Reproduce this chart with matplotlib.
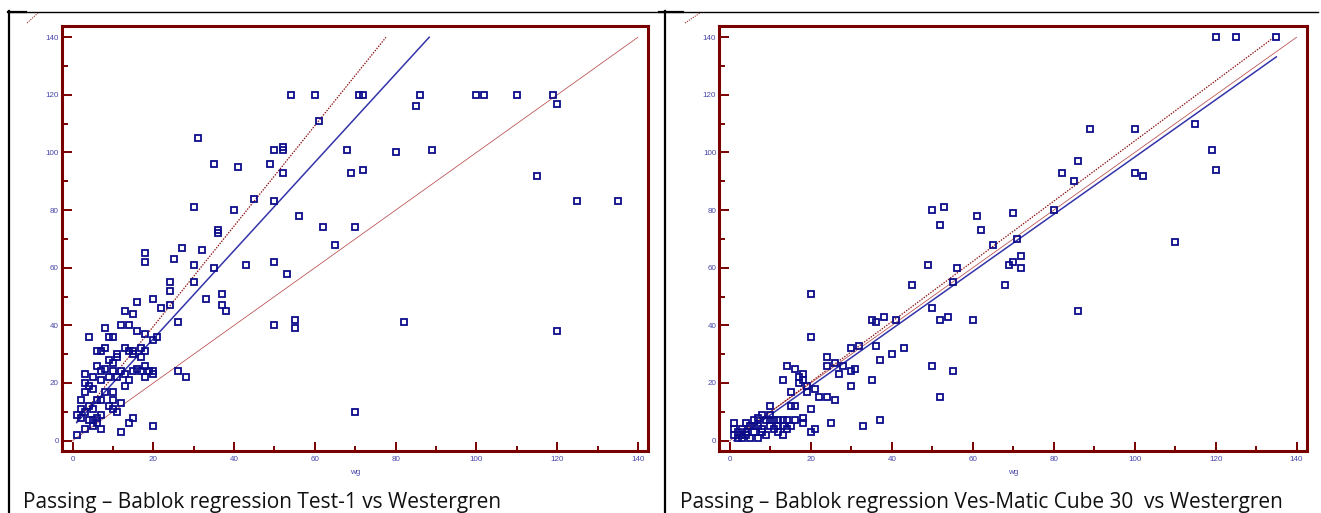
"""
Passing-Bablok regression plots, two methods against Westergren (wg).
"""

import matplotlib
matplotlib.use("Agg")
import matplotlib.pyplot as plt
from matplotlib.lines import Line2D
from matplotlib.ticker import MultipleLocator
import numpy as np


# ── data ──────────────────────────────────────────────────────────────
test1_wg = [
    54, 60, 71, 72, 86, 100, 102, 110, 119, 85, 120, 61, 31,
    68, 80, 89, 50, 52, 52, 35, 41, 49, 52, 69, 72, 115,
    45, 50, 125, 135, 30, 40, 56, 62, 70, 36, 36, 65,
    27, 18, 32, 25, 50, 18, 30, 35, 43, 53,
    24, 30, 24, 37, 33, 20, 37, 38, 24, 22, 16, 13, 15, 26, 50, 55, 55,
    82, 120, 70, 26, 28,
    4, 8, 9, 10, 12, 14, 16, 18, 20, 21,
    6, 7, 8, 11, 11, 13, 15, 15, 17, 18,
    10, 6, 17, 18, 8, 5, 3, 3, 7, 7, 9, 10, 11, 13, 13, 14, 15, 16, 17,
    18, 20, 20, 19,
    2, 3, 5, 6, 7, 8, 10, 10, 12, 11, 10, 7, 5, 4, 3, 2, 1, 2, 4, 3,
    5, 6, 7, 6, 5, 1, 12, 14, 15, 20, 4, 9, 12, 9, 14,
]
test1_y = [
    120, 120, 120, 120, 120, 120, 120, 120, 120, 116, 117, 111, 105,
    101, 100, 101, 101, 102, 101, 96, 95, 96, 93, 93, 94, 92,
    84, 83, 83, 83, 81, 80, 78, 74, 74, 73, 72, 68,
    67, 65, 66, 63, 62, 62, 61, 60, 61, 58,
    55, 55, 52, 51, 49, 49, 47, 45, 47, 46, 48, 45, 44, 41, 40, 42, 39,
    41, 38, 10, 24, 22,
    36, 39, 36, 36, 40, 40, 38, 37, 35, 36,
    31, 31, 32, 30, 29, 32, 31, 30, 32, 31,
    27, 26, 29, 26, 25, 22, 23, 20, 24, 21, 22, 24, 22, 23, 19, 21, 24, 25, 24,
    22, 24, 23, 24,
    14, 17, 18, 14, 14, 17, 17, 14, 13, 10, 11, 9, 11, 12, 10, 11, 9, 8, 7, 4,
    7, 8, 4, 6, 5, 2, 3, 6, 8, 5, 19, 12, 24, 28, 31,
]

cube30_wg = [
    120, 125, 135, 89, 100, 115, 119, 120, 86, 82, 85, 100, 102,
    80, 70, 71, 65, 110, 72, 70, 69, 72, 68, 86,
    50, 53, 52, 61, 62, 49, 56, 55, 45, 50, 52, 54, 60,
    35, 36, 38, 41, 30, 32, 36, 43, 40, 37,
    24, 24, 26, 28, 27, 30, 31, 35, 30, 50, 55, 52,
    22, 24, 26, 25, 33, 37, 20, 20, 21, 20, 20, 21,
    18, 18, 17, 17, 16, 14, 13, 15, 19, 19, 18, 18, 16, 15, 10,
    15, 16, 14, 8, 7, 1, 3, 4, 5, 6, 7, 8, 9, 10, 11, 12, 13,
    11, 12, 13, 14, 1, 1, 2, 3, 4, 5, 6, 7, 8, 9, 10, 6, 4, 12,
    3, 2, 10, 13,
]
cube30_y = [
    140, 140, 140, 108, 108, 110, 101, 94, 97, 93, 90, 93, 92,
    80, 79, 70, 68, 69, 64, 62, 61, 60, 54, 45,
    80, 81, 75, 78, 73, 61, 60, 55, 54, 46, 42, 43, 42,
    42, 41, 43, 42, 32, 33, 33, 32, 30, 28,
    29, 26, 27, 26, 23, 24, 25, 21, 19, 26, 24, 15,
    15, 15, 14, 6, 5, 7, 51, 36, 18, 11, 3, 4,
    23, 21, 22, 20, 25, 26, 21, 17, 19, 17, 8, 6, 12, 12, 12,
    5, 7, 7, 9, 8, 6, 4, 6, 5, 7, 5, 4, 7, 5, 7, 7, 5,
    4, 3, 2, 4, 4, 2, 1, 1, 3, 1, 3, 1, 3, 2, 9, 5, 2, 5,
    2, 3, 7, 7,
]

# regression lines: (intercept, slope)
test1_fit = (4.7, 1.532)
test1_upper = (4.8, 1.742)
cube30_fit = (-1.0, 0.994)
cube30_upper = (-0.5, 1.045)

axis_ticks = [0, 20, 40, 60, 80, 100, 120, 140]
captions = [
    "Passing \u2013 Bablok regression Test-1 vs Westergren",
    "Passing \u2013 Bablok regression Ves-Matic Cube 30  vs Westergren",
]
x_label = "wg"

# ── style ─────────────────────────────────────────────────────────────
W, H = 1321, 513
FRAME = "#7a0000"
TICKTXT = "#4646aa"
MARKER = "#0c0c8a"
FITLINE = "#3434aa"
TOP = 140


def fx(p):
    return p / W


def fy(p):
    return 1 - p / H


def seg(a, b, x0, x1):
    """x-range of a fit line, cut where it leaves the 0..140 box."""
    x1 = min(x1, (TOP - a) / b)
    xs = np.array([x0, x1])
    return xs, a + b * xs


def draw_panel(ax, x, y, fit, upper):
    x = np.asarray(x)
    y = np.asarray(y)
    lo, hi = x.min(), x.max()

    ax.plot([0, TOP], [0, TOP], color="#b84a4a", lw=0.55, zorder=2)
    xs, ys = seg(*upper, lo, hi)
    ax.plot(xs, ys, color="#8b0a0a", lw=0.9, ls=(0, (1.1, 1.1)), zorder=2)
    xs, ys = seg(*fit, lo, hi)
    ax.plot(xs, ys, color=FITLINE, lw=1.1, zorder=2)

    ax.plot(x, y, ls="none", marker="s", ms=4.5, mfc="none",
            mec=MARKER, mew=1.3, zorder=3)

    ax.set_xlim(-2.7, 142.5)
    ax.set_ylim(-3.5, 143.8)
    for side in ("left", "bottom", "right", "top"):
        ax.spines[side].set_color(FRAME)
        ax.spines[side].set_linewidth(2.2)

    ax.set_xticks(axis_ticks)
    ax.set_yticks(axis_ticks)
    ax.xaxis.set_minor_locator(MultipleLocator(10))
    ax.yaxis.set_minor_locator(MultipleLocator(10))
    ax.tick_params(which="both", direction="in", color=FRAME,
                   top=False, right=False)
    ax.tick_params(axis="y", which="major", length=7.2, width=1.4,
                   pad=2.0, labelsize=5.8, labelcolor=TICKTXT)
    ax.tick_params(axis="y", which="minor", length=4.2, width=1.4)
    ax.tick_params(axis="x", which="major", length=6.5, width=1.4,
                   pad=3.5, labelsize=5.8, labelcolor=TICKTXT)
    ax.tick_params(axis="x", which="minor", length=3.6, width=1.4)
    for lab in ax.get_xticklabels() + ax.get_yticklabels():
        lab.set_family("Liberation Sans")
    ax.set_xlabel(x_label, fontsize=5.8, color=TICKTXT,
                  family="Liberation Sans", labelpad=4.5)


fig = plt.figure(figsize=(W / 100, H / 100), dpi=100)

ax1 = fig.add_axes([fx(61.7), fy(450.7), fx(586.3), 424.4 / H])
ax2 = fig.add_axes([fx(719.0), fy(450.7), fx(587.7), 424.4 / H])
draw_panel(ax1, test1_wg, test1_y, test1_fit, test1_upper)
draw_panel(ax2, cube30_wg, cube30_y, cube30_fit, cube30_upper)

# table cell borders around the two figures
for args in (
    ([fx(8), fx(1318)], [fy(11.5), fy(11.5)], 1.0),
    ([fx(8), fx(26)], [fy(11.5), fy(11.5)], 1.6),
    ([fx(659), fx(683)], [fy(11.5), fy(11.5)], 1.6),
    ([fx(8.5), fx(8.5)], [fy(11), fy(513)], 1.6),
    ([fx(665), fx(665)], [fy(11), fy(513)], 1.6),
):
    fig.add_artist(Line2D(args[0], args[1], color="black", lw=args[2],
                          transform=fig.transFigure))

# stray red ticks above each frame
for x0, x1 in ((27, 38), (685, 700)):
    fig.add_artist(Line2D([fx(x0), fx(x1)], [fy(23), fy(13)], color="#a02020",
                          lw=0.7, ls=(0, (1.2, 1.2)),
                          transform=fig.transFigure))

for cap, x0 in zip(captions, (22.7, 680.0)):
    fig.text(fx(x0), fy(507.7), cap, family=["Open Sans", "DejaVu Sans"],
             fontsize=15.0, color="#111111", va="baseline", ha="left")

fig.savefig("out.png", dpi=100)
